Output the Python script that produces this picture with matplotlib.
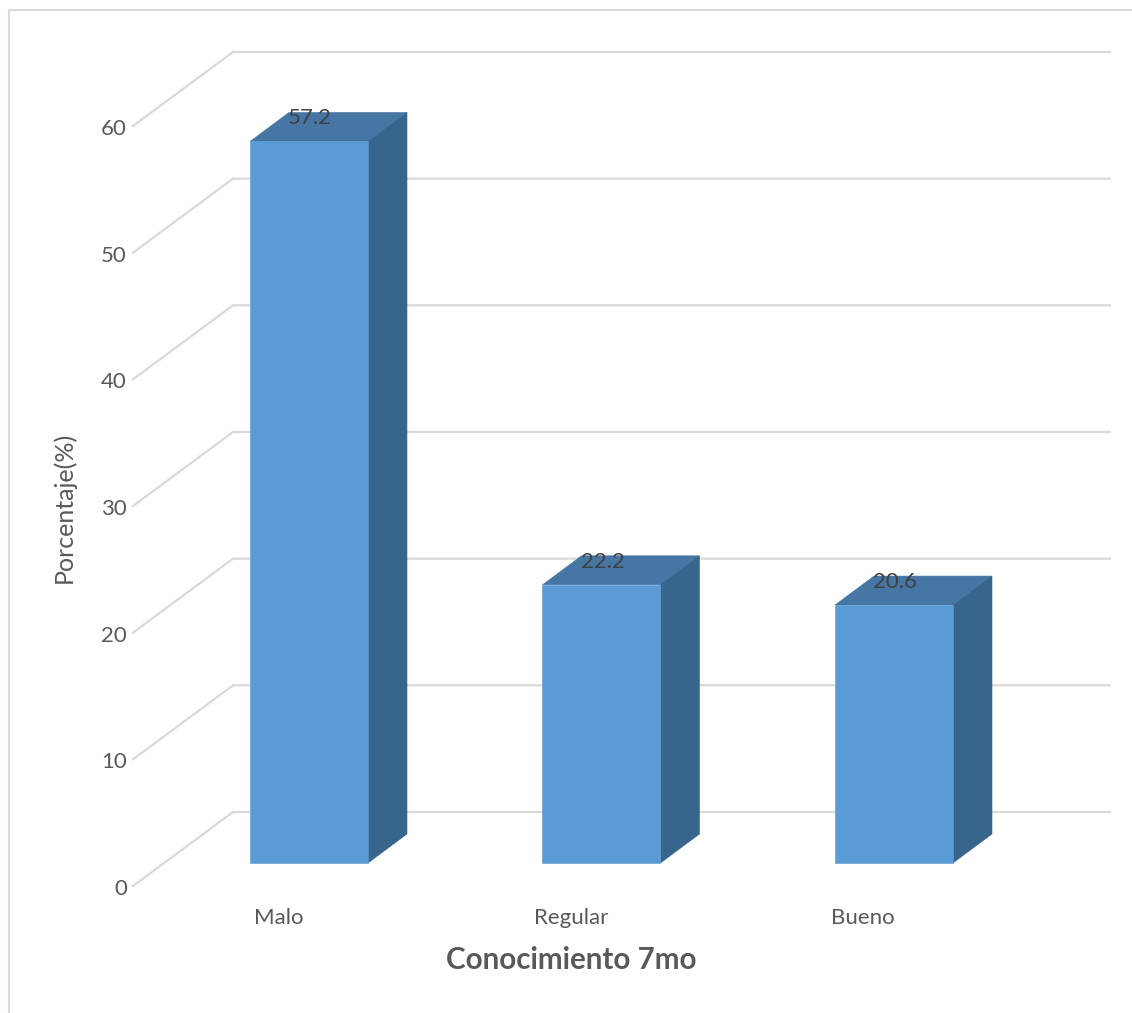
# plot.py

import matplotlib.pyplot as plt
import numpy as np

plt.rcParams["font.family"] = ["Lato", "DejaVu Sans"]

categories = ["Malo", "Regular", "Bueno"]
values = [57.2, 22.2, 20.6]
y_ticks = [0, 10, 20, 30, 40, 50, 60]
x_title = "Conocimiento 7mo"
y_title = "Porcentaje(%)"

W, H = 1132, 1013
PX_PER_UNIT = 12.667  # pixels for one percent
PX_PER_CAT = 292.5  # pixels between bars
X0, Y0 = 309, 886  # pixel of first category, value 0 on the front edge

fig = plt.figure(figsize=(W / 100, H / 100), dpi=100)
ax = fig.add_axes([0, 0, 1, 1])
ax.set_xlim(-X0 / PX_PER_CAT, (W - X0) / PX_PER_CAT)
ax.set_ylim((Y0 - H) / PX_PER_UNIT, Y0 / PX_PER_UNIT)
ax.axis("off")

# depth offsets, in data units
dx = lambda px: px / PX_PER_CAT
dy = lambda px: px / PX_PER_UNIT

grid_color = "#d9d9d9"
text_color = "#595959"

# chart frame, only left and top are visible in the picture
ax.plot(
    [dx(9 - X0), dx(9 - X0), dx(W - X0)],
    [dy(Y0 - H), dy(Y0 - 10), dy(Y0 - 10)],
    color=grid_color,
    lw=1.5,
)

# wall gridlines with the slanted part on the side wall
x_front = dx(133 - X0)
x_back = dx(233 - X0)
x_end = dx(1110 - X0)
for t in y_ticks:
    y_back = t + dy(74)
    ax.plot(
        [x_front, x_back, x_end],
        [t, y_back, y_back],
        color=grid_color,
        lw=1.6,
        solid_joinstyle="miter",
        zorder=1,
    )
    ax.text(
        x_front - dx(6),
        t - dy(3),
        str(t),
        ha="right",
        va="center",
        fontsize=16,
        color=text_color,
    )

# 3d bars: side and top faces first, the front face over them
half = dx(59)
depth_x = dx(39)
depth_y = dy(29)
base = dy(23)
for i, v in enumerate(values):
    left, right = i - half, i + half
    top = v + dy(20)
    ax.fill(
        [left, right, right + depth_x, left + depth_x],
        [top, top, top + depth_y, top + depth_y],
        color="#4676a4",
        lw=0.4,
        zorder=3,
    )
    ax.fill(
        [right, right + depth_x, right + depth_x, right],
        [base, base + depth_y, top + depth_y, top],
        color="#38658b",
        lw=0.4,
        zorder=3,
    )
    ax.fill(
        [left, right, right, left],
        [base, base, top, top],
        color="#5b9bd5",
        lw=0.4,
        zorder=3,
    )
    ax.text(
        i + dx(1),
        top + dy(23),
        f"{v:.1f}",
        ha="center",
        va="center",
        fontsize=16,
        color="#404040",
        zorder=4,
    )

# category labels sit left of the bars
label_x = [dx(279 - X0), dx(571 - X0), dx(863 - X0)]
for x, name in zip(label_x, categories):
    ax.text(
        x, dy(Y0 - 918), name, ha="center", va="center", fontsize=16, color=text_color
    )

ax.text(
    dx(571 - X0),
    dy(Y0 - 960),
    x_title,
    ha="center",
    va="center",
    fontsize=21.3,
    fontweight="bold",
    color=text_color,
)
ax.text(
    dx(64 - X0),
    dy(Y0 - 507),
    y_title,
    ha="center",
    va="center",
    rotation=90,
    fontsize=18,
    color=text_color,
)

fig.savefig("out.png", dpi=100)
